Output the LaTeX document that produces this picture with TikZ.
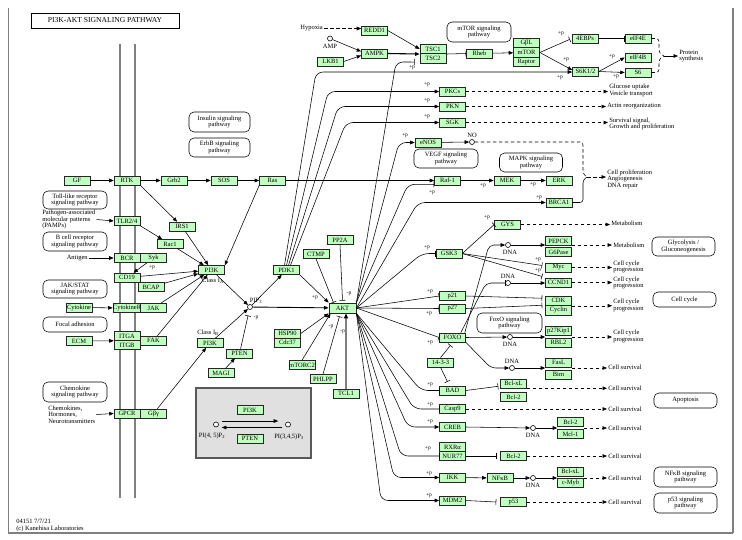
\documentclass[tikz,border=0pt]{standalone}
\usepackage{fontspec}
\setmainfont{Liberation Serif}
\usetikzlibrary{arrows.meta,calc}
\definecolor{kg}{RGB}{191,255,191}
\definecolor{memc}{RGB}{128,128,128}
\newcommand\kfs{\fontsize{6.5}{6.6}\selectfont}
\newcommand\kfp{\fontsize{5.5}{5.8}\selectfont}
\newcommand\kpl[3]{\node[pl] (#1) at (#2) {#3};}
\begin{document}
\begin{tikzpicture}[x=1pt,y=-1pt, line width=0.55pt,
  g/.style={draw=black!85, fill=kg, minimum width=26pt, minimum height=9pt, inner sep=0pt, font=\kfs},
  pw/.style={draw, rounded corners=5pt, align=center, font=\kfs, inner sep=0pt},
  tx/.style={font=\kfs, inner sep=1pt},
  pl/.style={font=\kfp, inner sep=0pt},
  ar/.style={-{Triangle[length=4.5pt,width=3.6pt]}},
  inh/.style={-{Bar[width=6pt]}},
  dsh/.style={dash pattern=on 3.5pt off 2.5pt},
  dna/.style={circle, draw, fill=white, minimum size=5pt, inner sep=0pt, line width=0.6pt},
  rc/.style={rounded corners=7pt}]
\useasboundingbox (0,0) rectangle (742,539);
% frame
\draw[memc, line width=1pt] (8,8) -- (8,533);
\draw[memc, line width=1.2pt] (8,533) -- (733,533);
\draw[memc, line width=2pt] (733,533) -- (733,8);
% membrane
\draw[memc, line width=2.2pt] (120,44) -- (120,498);
\draw[memc, line width=2.2pt] (135,44) -- (135,498);
% title
\node[draw, line width=0.9pt, minimum width=148pt, minimum height=15pt, inner sep=0pt, font=\fontsize{7.6}{8}\selectfont] (title) at (105,20.5) {PI3K-AKT SIGNALING PATHWAY};
% genes
\node[g] (gf) at (77,180.5) {GF};
\node[g] (rtk) at (127,180.5) {RTK};
\node[g] (grb) at (174,180.5) {Grb2};
\node[g] (sos) at (224,180.5) {SOS};
\node[g] (ras) at (272.5,180.5) {Ras};
\node[g] (raf) at (447.5,180.5) {Raf-1};
\node[g] (mek) at (507,180.5) {MEK};
\node[g] (erk) at (559,180.5) {ERK};
\node[g] (brca) at (559,202.5) {BRCA1};
\node[g] (tlr) at (127,221) {TLR2/4};
\node[g] (irs) at (182,226.5) {IRS1};
\node[g] (rac) at (170,244) {Rac1};
\node[g] (bcr) at (127,258) {BCR};
\node[g] (syk) at (153.5,258) {Syk};
\node[g] (cd19) at (127,277.5) {CD19};
\node[g] (bcap) at (151,287) {BCAP};
\node[g] (pi3ka) at (211.5,270) {PI3K};
\node[g] (cyt) at (79,307.5) {Cytokine};
\node[g] (cytr) at (127,308) {CytokineR};
\node[g] (jak) at (153.5,308) {JAK};
\node[g] (ecm) at (79,341) {ECM};
\node[g] (itga) at (127,336) {ITGA};
\node[g] (itgb) at (127,345) {ITGB};
\node[g] (fak) at (153.5,340.5) {FAK};
\node[g] (pi3kb) at (210,343) {PI3K};
\node[g] (pten) at (239.5,353.5) {PTEN};
\node[g] (magi) at (221,373) {MAGI};
\node[g] (pdk1) at (286.5,270) {PDK1};
\node[g] (ctmp) at (316,254) {CTMP};
\node[g] (pp2a) at (340,240) {PP2A};
\node[g, minimum width=27pt, minimum height=10pt, line width=0.8pt] (akt) at (342.5,308) {AKT};
\node[g] (hsp) at (287.5,333.5) {HSP90};
\node[g] (cdc) at (287.5,342.5) {Cdc37};
\node[g] (mtorc2) at (302,365) {mTORC2};
\node[g] (phlpp) at (323,379) {PHLPP};
\node[g] (tcl) at (346,393.5) {TCL1};
\node[g] (gpcr) at (127,413.5) {GPCR};
\node[g] (gby) at (153.5,413.5) {Gβγ};
\node[g] (redd1) at (374.5,30.5) {REDD1};
\node[g] (ampk) at (374.5,53.5) {AMPK};
\node[g] (lkb1) at (330.5,61.5) {LKB1};
\node[g, minimum height=9.5pt] (tsc1) at (433,49) {TSC1};
\node[g, minimum height=9.5pt] (tsc2) at (433,58.5) {TSC2};
\node[g] (rheb) at (479.5,53.5) {Rheb};
\node[g, minimum height=9.5pt] (gbl) at (526.5,43) {GβL};
\node[g, minimum height=9.5pt] (mtor) at (526.5,52.5) {mTOR};
\node[g, minimum height=9.5pt] (raptor) at (526.5,62) {Raptor};
\node[g] (ebp4) at (585,38.5) {4EBPs};
\node[g] (eif4e) at (638,38.5) {eIF4E};
\node[g] (eif4b) at (638,57.5) {eIF4B};
\node[g] (s6) at (638,72.5) {S6};
\node[g] (s6k) at (585.5,71.5) {S6K1/2};
\node[g] (pkcs) at (452.5,91.5) {PKCs};
\node[g] (pkn) at (452.5,106.5) {PKN};
\node[g] (sgk) at (452.5,122.5) {SGK};
\node[g] (enos) at (428,142.5) {eNOS};
\node[g] (gys) at (507.5,224.5) {GYS};
\node[g] (gsk3) at (449,253.5) {GSK3};
\node[g] (pepck) at (558.5,241) {PEPCK};
\node[g] (g6p) at (558.5,252) {G6Pase};
\node[g] (myc) at (558.5,267.5) {Myc};
\node[g] (ccnd1) at (558.5,282.5) {CCND1};
\node[g, minimum height=9.5pt] (cdk) at (558.5,300.75) {CDK};
\node[g, minimum height=9.5pt] (cyclin) at (558.5,310.25) {Cyclin};
\node[g] (p27kip) at (558.5,331) {p27Kip1};
\node[g] (rbl2) at (558.5,342.5) {RBL2};
\node[g] (fasl) at (558.5,362.5) {FasL};
\node[g] (bim) at (558.5,374.5) {Bim};
\node[g] (bclxl1) at (513.5,383.5) {Bcl-xL};
\node[g] (bcl2a) at (513.5,397) {Bcl-2};
\node[g] (bcl2b) at (570.5,422) {Bcl-2};
\node[g] (mcl1) at (570.5,434) {Mcl-1};
\node[g] (bcl2c) at (513.5,456) {Bcl-2};
\node[g] (nfkb) at (500,478) {NFκB};
\node[g] (bclxl2) at (570.5,471.5) {Bcl-xL};
\node[g] (cmyb) at (570.5,482.5) {c-Myb};
\node[g] (p53) at (513.5,502) {p53};
\node[g] (p21) at (452.5,296) {p21};
\node[g] (p27) at (452.5,308.5) {p27};
\node[g] (foxo) at (452.5,337.5) {FOXO};
\node[g] (n1433) at (440.5,362.5) {14-3-3};
\node[g] (bad) at (452.5,390.5) {BAD};
\node[g] (casp9) at (452.5,409) {Casp9};
\node[g] (creb) at (452.5,427) {CREB};
\node[g] (rxra) at (452.5,447) {RXRα};
\node[g] (nur77) at (452.5,456) {NUR77};
\node[g] (ikk) at (452.5,477.5) {IKK};
\node[g] (mdm2) at (452.5,500.5) {MDM2};
% pathway boxes
\node[pw, minimum width=61pt, minimum height=20pt] (insulinpw) at (219.5,122) {Insulin signaling\\pathway};
\node[pw, minimum width=61pt, minimum height=19pt] (erbbpw) at (219.5,147.5) {ErbB signaling\\pathway};
\node[pw, minimum width=64pt, minimum height=18pt] (tollpw) at (75,200) {Toll-like receptor\\signaling pathway};
\node[pw, minimum width=64pt, minimum height=19pt] (bcellpw) at (75,241.5) {B cell receptor\\signaling pathway};
\node[pw, minimum width=64pt, minimum height=18pt] (jakpw) at (75,289) {JAK/STAT\\signaling pathway};
\node[pw, minimum width=64pt, minimum height=15pt] (focalpw) at (75,324.5) {Focal adhesion};
\node[pw, minimum width=64pt, minimum height=20pt] (chemopw) at (75,392) {Chemokine\\signaling pathway};
\node[pw, minimum width=64pt, minimum height=20pt] (mtorpw) at (479,32) {mTOR signaling\\pathway};
\node[pw, minimum width=64pt, minimum height=19pt] (vegfpw) at (446,158.5) {VEGF signaling\\pathway};
\node[pw, minimum width=63pt, minimum height=19pt] (mapkpw) at (531,162.5) {MAPK signaling\\pathway};
\node[pw, minimum width=65pt, minimum height=20pt] (foxopw) at (509.5,323) {FoxO signaling\\pathway};
\node[pw, minimum width=63pt, minimum height=19pt] (glycopw) at (683.5,246.5) {Glycolysis /\\Gluconeogenesis};
\node[pw, minimum width=63pt, minimum height=15pt] (ccpw) at (684.5,299.5) {Cell cycle};
\node[pw, minimum width=63pt, minimum height=15pt] (apopw) at (685.5,400.5) {Apoptosis};
\node[pw, minimum width=63pt, minimum height=20pt] (nfkbpw) at (685.5,477) {NFκB signaling\\pathway};
\node[pw, minimum width=63pt, minimum height=20pt] (p53pw) at (685.5,503) {p53 signaling\\pathway};
% circles
\node[dna] (pip3) at (250,307) {};
\node[dna] (no) at (472,142) {};
\node[dna] (amp) at (330,38.5) {};
\node[dna] (dna1) at (508,245) {};
\node[dna] (dna2) at (508,283) {};
\node[dna] (dna3) at (510,337) {};
\node[dna] (dna4) at (512,368) {};
\node[dna] (dna5) at (533,428) {};
\node[dna] (dna6) at (533,478) {};
\node[tx] (dl1) at (510,252.5) {DNA};
\node[tx] (dl2) at (508,276) {DNA};
\node[tx] (dl3) at (510,344.5) {DNA};
\node[tx] (dl4) at (512,361) {DNA};
\node[tx] (dl5) at (533,435.5) {DNA};
\node[tx] (dl6) at (533,485.5) {DNA};
\node[tx] (nol) at (472,135) {NO};
\node[tx] (ampl) at (330,46.5) {AMP};
\node[tx] (pip3l) at (256,301) {PIP\textsubscript{3}};
\node[tx] (cla) at (213,281) {Class I\textsubscript{A}};
\node[tx] (clb) at (208,333) {Class I\textsubscript{B}};
% texts
\node[tx, align=left, anchor=west] (pamps) at (41,219.5) {Pathogen-associated\\molecular patterns\\(PAMPs)};
\node[tx, anchor=east] (antigen) at (89,258) {Antigen};
\node[tx, align=left, anchor=west] (chemo) at (47,414.5) {Chemokines,\\Hormones,\\Neurotransmitters};
\node[tx, anchor=east] (hypoxia) at (324,28.5) {Hypoxia};
\node[tx, align=left, anchor=west] (foot) at (15,525.5) {04151 7/7/21\\(c) Kanehisa Laboratories};
\node[tx, align=left, anchor=west] (glucose) at (608,90.5) {Glucose uptake\\Vesicle transport};
\node[tx, anchor=west] (actin) at (606,106.5) {Actin reorganization};
\node[tx, align=left, anchor=west] (survsig) at (608,124) {Survival signal,\\Growth and proliferation};
\node[tx, align=left, anchor=west] (prolif) at (606,179) {Cell proliferation\\Angiogenesis\\DNA repair};
\node[tx, align=left, anchor=west] (protein) at (678,56) {Protein\\synthesis};
\node[tx, anchor=west] (metab1) at (610,223.5) {Metabolism};
\node[tx, anchor=west] (metab2) at (612,245.5) {Metabolism};
\node[tx, align=left, anchor=west] (cc1) at (612,267) {Cell cycle\\progression};
\node[tx, align=left, anchor=west] (cc2) at (612,283) {Cell cycle\\progression};
\node[tx, align=left, anchor=west] (cc3) at (612,305.5) {Cell cycle\\progression};
\node[tx, align=left, anchor=west] (cc4) at (612,336.5) {Cell cycle\\progression};
\node[tx, anchor=west] (cs1) at (607,367.5) {Cell survival};
\node[tx, anchor=west] (cs2) at (607,388) {Cell survival};
\node[tx, anchor=west] (cs3) at (607,409.5) {Cell survival};
\node[tx, anchor=west] (cs4) at (607,428.5) {Cell survival};
\node[tx, anchor=west] (cs5) at (607,456) {Cell survival};
\node[tx, anchor=west] (cs6) at (607,478) {Cell survival};
\node[tx, anchor=west] (cs7) at (607,502.5) {Cell survival};
% legend box
\node[draw=black!65, fill=black!12, line width=1.3pt, minimum width=115pt, minimum height=70pt, inner sep=0pt] (legend) at (253.5,423) {};
\node[g] (pi3kin) at (250,410) {PI3K};
\node[g] (ptenin) at (250,438.5) {PTEN};
\node[dna] (c1) at (216,424.5) {};
\node[dna] (c2) at (288,424.5) {};
\node[tx] (c1l) at (212,436) {PI(4, 5)P\textsubscript{2}};
\node[tx] (c2l) at (289,437) {PI(3,4,5)P\textsubscript{3}};
\draw[ar] ($(c1.east)+(3,-3.5)$) -- ($(c2.west)+(-7,-3.5)$);
\draw[ar] ($(c2.west)+(-3,3)$) -- ($(c1.east)+(3,3)$);
% phospho labels
\kpl{q1}{412,68}{+p}
\kpl{q2}{427,85}{+p}
\kpl{q3}{427,101}{+p}
\kpl{q4}{427,117}{+p}
\kpl{q5}{405,136}{+p}
\kpl{q6}{561,34}{+p}
\kpl{q7}{566,59.5}{+p}
\kpl{q8}{560,78}{+p}
\kpl{q9}{612,57}{+p}
\kpl{q10}{616,76.5}{+p}
\kpl{q11}{432,193}{+p}
\kpl{q12}{483,185.5}{+p}
\kpl{q13}{533,184.5}{+p}
\kpl{q14}{539,198}{+p}
\kpl{q15}{487,218}{+p}
\kpl{q16}{427,248}{+p}
\kpl{q17}{538,260}{+p}
\kpl{q18}{538,271}{+p}
\kpl{q19}{430,292}{+p}
\kpl{q20}{429,314}{+p}
\kpl{q21}{430,343}{+p}
\kpl{q22}{430,385}{+p}
\kpl{q23}{430,405}{+p}
\kpl{q24}{430,421.5}{+p}
\kpl{q25}{428,449}{+p}
\kpl{q26}{429,474}{+p}
\kpl{q27}{429,496}{+p}
\kpl{q28}{315,297.5}{+p}
\kpl{q29}{349,294}{-p}
\kpl{q30}{331,327}{-p}
\kpl{q31}{342.5,332}{-p}
\kpl{q32}{256,318}{-p}
\kpl{q33}{152,268}{+p}
% edges left
\draw[ar] (gf) -- (rtk);
\draw[ar] (rtk) -- (grb);
\draw[ar] (grb) -- (sos);
\draw[ar] (sos) -- (ras);
\draw[ar] (ras) -- (raf);
\draw[ar] (raf) -- (mek);
\draw[ar] (mek) -- (erk);
\draw[ar] (rtk.south east) -- (irs);
\draw[ar] (irs) -- (pi3ka);
\draw[ar] (ras.south west) -- (pi3ka.north east);
\draw[ar] (pamps.east) -- (tlr.west);
\draw[ar] (tlr.south east) -- (rac);
\draw[ar] (rac) -- (pi3ka);
\draw[ar] (antigen) -- (bcr);
\draw[ar] (syk) -- (cd19);
\draw[ar] (cd19) -- (pi3ka);
\draw[ar] (bcap) -- (pi3ka);
\draw[ar] (cyt) -- (cytr);
\draw[ar] (jak) -- (pi3ka);
\draw[ar] (ecm) -- (itga.south west);
\draw[ar] (fak) -- (pi3ka);
\draw[ar] (chemo.east) -- (gpcr.west);
\draw[ar] (gby) -- (pi3kb);
\draw[ar] (magi) -- (pten);
\draw[ar] (pi3ka) -- (pip3);
\draw[ar] (pi3kb) -- (pip3);
\draw[inh, shorten >=6pt] (pten) -- (pip3);
\draw[ar] (pip3) -- (pdk1);
\draw[ar, line width=0.9pt] (pip3) -- (akt);
\draw[ar] (pdk1.south east) -- (akt.north west);
\draw[inh] (ctmp.south) -- ($(akt.north)+(-9,0)$);
\draw[inh] (pp2a.south) -- ($(akt.north)+(0,-2)$);
\draw[ar] (hsp.east) -- (akt.south west);
\draw[ar] (mtorc2.north) -- ($(akt.south)+(-12,0)$);
\draw[inh] (phlpp.north) -- ($(akt.south)+(-3,3)$);
\draw[memc, line width=1.6pt, -{Triangle[length=5pt,width=4pt,color=black]}] (tcl.north) -- (tcl.north |- akt.south);
% PDK1 outputs
\draw[ar, rc] ($(pdk1.north)+(-2,0)$) -- (316,72) -- ($(s6k.west)+(0,0.5)$);
\draw[ar, rc] (pdk1.north) -- (328,91.5) -- (pkcs.west);
\draw[ar, rc] ($(pdk1.north)+(2,0)$) -- (338,106.5) -- (pkn.west);
\draw[ar, rc] ($(pdk1.north)+(4,0)$) -- (346,122.5) -- (sgk.west);
% AKT outputs up
\draw[inh, rc] (akt.north east) -- (396,62) -- ($(tsc2.south west)+(-5,-1.5)$);
\draw[ar, rc] (akt.north east) -- (399,142.5) -- (enos.west);
\draw[inh, rc] (akt.north east) -- (408,184.2) -- ($(raf.south west)+(0,-0.8)$);
\draw[ar, rc] (akt.east) -- (418,202.5) -- (brca.west);
\draw[inh, rc] (akt.east) -- (422,253.5) -- (gsk3.west);
\draw[inh] (akt.east) -- (p21.west);
\draw[inh] (akt.east) -- (p27.west);
\draw[inh] (akt.east) -- (foxo.west);
% AKT outputs down
\draw[inh, rc] (akt.south east) -- (421,390.5) -- (bad.west);
\draw[inh, rc] (akt.south east) -- (414,409) -- (casp9.west);
\draw[ar, rc] (akt.south east) -- (408,427) -- (creb.west);
\draw[inh, rc] (akt.south east) -- (401,456) -- (nur77.west);
\draw[ar, rc] (akt.south east) -- (394,477.5) -- (ikk.west);
\draw[ar, rc] (akt.south east) -- (381,500.5) -- (mdm2.west);
% top
\draw[ar, dsh] (hypoxia.east) -- (hypoxia.east -| redd1.west);
\draw[ar] (redd1.east) -- (tsc1.west);
\draw[ar] (amp) -- ($(ampk.west)+(0,-2)$);
\draw[ar] (lkb1.east) -- ($(ampk.west)+(0,2)$);
\draw[ar, line width=1.1pt] (ampk.east) -- (tsc1.south west);
\draw[inh] (tsc1.south east) -- (rheb.west);
\draw[ar] (rheb) -- (mtor);
\draw[inh, shorten >=2pt] (mtor.east) -- (ebp4.west);
\draw[ar] (mtor.east) -- ($(s6k.west)+(0,-1.5)$);
\draw[inh] (ebp4) -- (eif4e);
\draw[ar] (s6k.east) -- (eif4b.west);
\draw[ar] (s6k.east) -- (s6.west);
\coordinate (pstip) at (664,56);
\draw[dsh, rounded corners=3pt] (eif4e.east) -- (659,38.5) -- (659,53) -- (pstip);
\draw[dsh, rounded corners=3pt] (s6.east) -- (659,72.5) -- (659,59) -- (pstip);
\draw[ar] (pstip) -- (protein.west);
\draw[ar, dsh] (pkcs.east) -- (pkcs.east -| glucose.west);
\draw[ar, dsh] (pkn.east) -- (pkn.east -| actin.west);
\draw[ar, dsh, line width=0.9pt] (sgk.east) -- (sgk.east -| survsig.west);
\draw[ar] (enos) -- (no);
\coordinate (prtip) at (587,177);
\draw[dsh, rounded corners=3pt] (no.east) -- (583,142) -- (583,174) -- (prtip);
\draw[rounded corners=3pt] (brca.east) -- (583,202.5) -- (583,180) -- (prtip);
\draw[ar, dsh] (prtip) -- (prtip -| prolif.west);
% GSK3 / FOXO
\draw[inh] (gsk3.east) -- (gys.west);
\draw[inh] (gsk3.east) -- ($(myc.west)+(-3,-2)$);
\draw[inh] (gsk3.east) -- ($(ccnd1.west)+(-3,-6)$);
\draw[ar, rounded corners=5pt] ($(foxo.north east)+(-1,0)$) -- (489,245) -- (dna1);
\draw[ar] (dna1) -- (dna1 -| pepck.west);
\draw[inh, rounded corners=5pt] ($(foxo.north east)+(-5,0)$) -- (486,283) -- (dna2);
\draw[ar] (dna2) -- (dna2 -| ccnd1.west);
\draw[ar] (foxo.east) -- (dna3);
\draw[ar] (dna3) -- (dna3 -| p27kip.west);
\draw[ar, rounded corners=5pt] (foxo.south east) -- (491,368) -- (dna4);
\draw[ar] (dna4) -- (dna4 -| fasl.west);
\draw[inh] (p21.east) -- ($(cdk.west)+(-3,-2.5)$);
\draw[inh] (p27.east) -- ($(cdk.west)+(-3,4.5)$);
\draw[inh] (n1433.north) -- ($(foxo.south)+(-2,3)$);
\draw[inh] (n1433.south) -- ($(bad.north)+(-5,-4)$);
\draw[inh] (bad.east) -- ($(bclxl1.south west)+(-2,-2)$);
\draw[ar] (creb.east) -- (dna5);
\draw[ar] (dna5) -- (dna5 -| bcl2b.west);
\draw[inh] (nur77.east) -- ($(bcl2c.west)+(-4,0)$);
\draw[ar] (ikk) -- (nfkb);
\draw[ar] (nfkb) -- (dna6);
\draw[ar] (dna6) -- (dna6 -| bclxl2.west);
\draw[inh] (mdm2.east) -- ($(p53.west)+(-4,0)$);
% dashed outputs
\draw[ar, dsh] (gys.east) -- (gys.east -| metab1.west);
\draw[ar, dsh] (dna1 -| pepck.east) -- (dna1 -| metab2.west);
\draw[ar, dsh] (myc.east) -- (myc.east -| cc1.west);
\draw[ar, dsh] (ccnd1.east) -- (ccnd1.east -| cc2.west);
\draw[ar, dsh] (cdk.south east) -- (cdk.south east -| cc3.west);
\draw[ar, dsh] (dna3 -| p27kip.east) -- (dna3 -| cc4.west);
\draw[ar, dsh] (dna4 -| fasl.east) -- (dna4 -| cs1.west);
\draw[ar, dsh] (bclxl1.south east) -- (bclxl1.south east -| cs2.west);
\draw[ar, dsh] (casp9.east) -- (casp9.east -| cs3.west);
\draw[ar, dsh] (dna5 -| bcl2b.east) -- (dna5 -| cs4.west);
\draw[ar, dsh] (bcl2c.east) -- (bcl2c.east -| cs5.west);
\draw[ar, dsh] (dna6 -| bclxl2.east) -- (dna6 -| cs6.west);
\draw[ar, dsh] (p53.east) -- (p53.east -| cs7.west);
\end{tikzpicture}
\end{document}
